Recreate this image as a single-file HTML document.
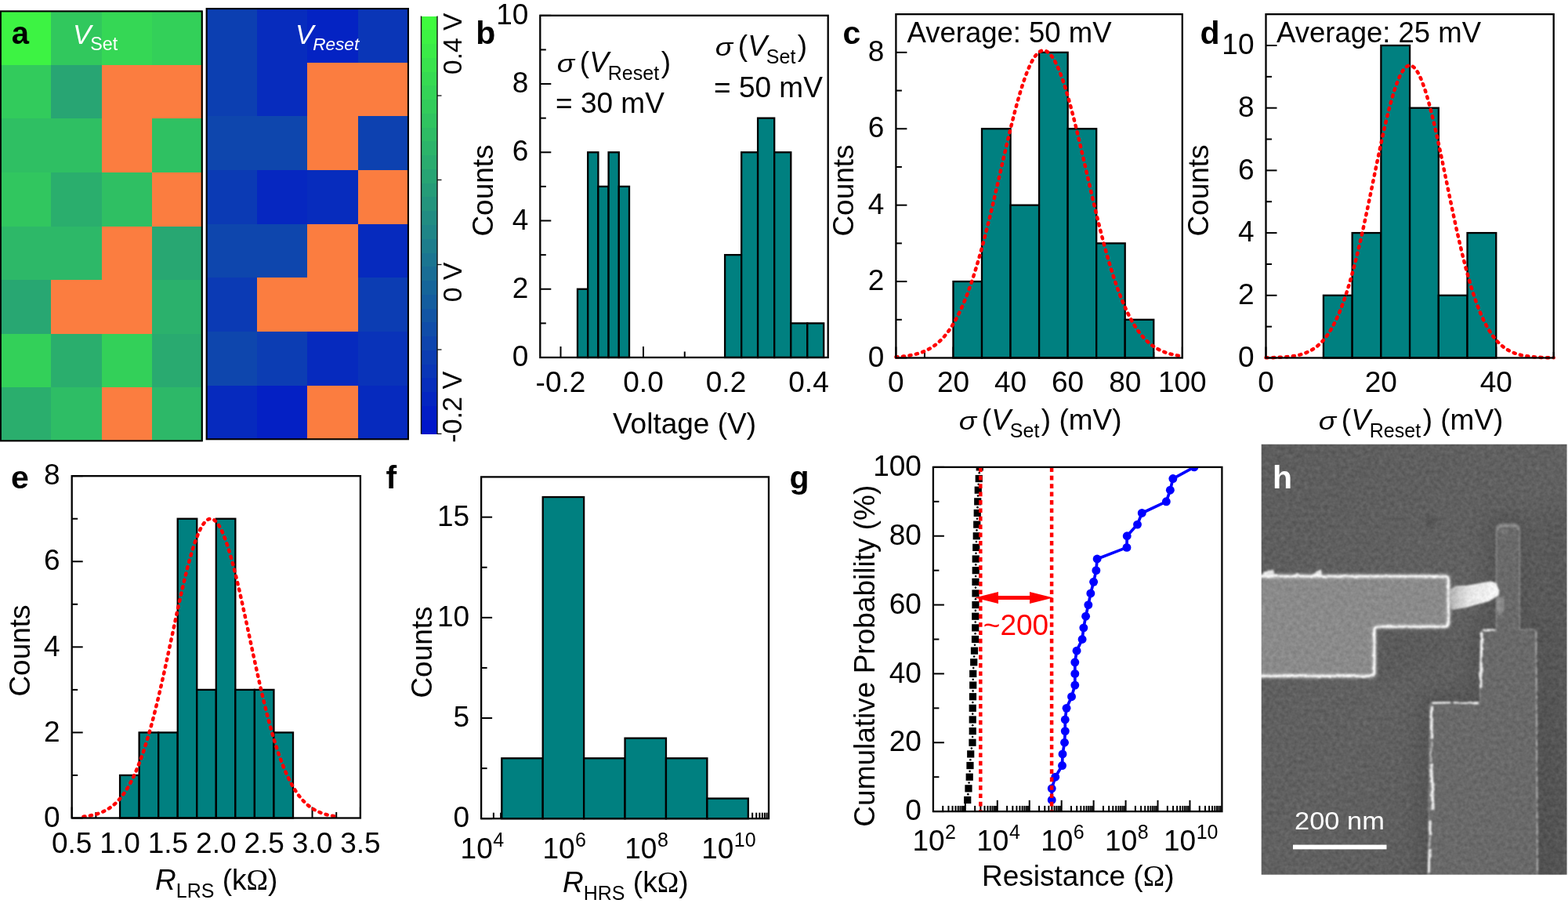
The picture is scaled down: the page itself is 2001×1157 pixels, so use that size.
<!DOCTYPE html>
<html lang="en"><head><meta charset="utf-8"><title>Figure</title>
<style>html,body{margin:0;padding:0;background:#fff;overflow:hidden}svg{display:block}text{font-family:"Liberation Sans", sans-serif}</style>
</head><body>
<svg width="2001" height="1157" viewBox="0 0 2001 1157">
<defs>
<clipPath id="semclip"><rect x="1609.7" y="566.8" width="389.89999999999986" height="548.9000000000001"/></clipPath>
<filter id="semf" x="-5%" y="-5%" width="110%" height="110%" color-interpolation-filters="sRGB"><feGaussianBlur in="SourceGraphic" stdDeviation="1" result="b"/><feTurbulence type="fractalNoise" baseFrequency="0.2" numOctaves="2" seed="7" result="n"/><feColorMatrix in="n" type="matrix" values="1 0 0 0 0  1 0 0 0 0  1 0 0 0 0  0 0 0 0 1" result="ng"/><feComposite in="b" in2="ng" operator="arithmetic" k1="0" k2="1" k3="0.13" k4="-0.065"/></filter>
<filter id="rough" x="-5%" y="-5%" width="110%" height="110%"><feTurbulence type="fractalNoise" baseFrequency="0.09" numOctaves="2" seed="3" result="t"/><feDisplacementMap in="SourceGraphic" in2="t" scale="3.2" xChannelSelector="R" yChannelSelector="G"/></filter>
<filter id="bl12" x="-30%" y="-30%" width="160%" height="160%"><feGaussianBlur stdDeviation="11"/></filter>
<filter id="bl5" x="-30%" y="-30%" width="160%" height="160%"><feGaussianBlur stdDeviation="5"/></filter>
<filter id="bl2" x="-30%" y="-30%" width="160%" height="160%"><feGaussianBlur stdDeviation="1.8"/></filter>
<linearGradient id="nwg" x1="0" y1="0" x2="1" y2="0"><stop offset="0" stop-color="#b0b0b0"/><stop offset="0.4" stop-color="#e6e6e6"/><stop offset="1" stop-color="#f6f6f6"/></linearGradient>
<linearGradient id="bgg" x1="0" y1="0" x2="1" y2="1"><stop offset="0" stop-color="#5d5d5d"/><stop offset="0.5" stop-color="#616161"/><stop offset="1" stop-color="#5a5a5a"/></linearGradient>
</defs>
<rect width="2001" height="1157" fill="#fff"/>
<g id="panel-a">
<g shape-rendering="crispEdges">
<rect x="0.8" y="14.3" width="64.6" height="69.15" fill="#3df343"/>
<rect x="64.8" y="14.3" width="65.7" height="69.15" fill="#31c85d"/>
<rect x="129.9" y="14.3" width="64.3" height="69.15" fill="#35d755"/>
<rect x="193.6" y="14.3" width="65" height="69.15" fill="#33d059"/>
<rect x="0.8" y="82.85" width="64.6" height="69.15" fill="#32cb5c"/>
<rect x="64.8" y="82.85" width="65.7" height="69.15" fill="#28a573"/>
<rect x="129.9" y="82.85" width="64.3" height="69.15" fill="#fb7d40"/>
<rect x="193.6" y="82.85" width="65" height="69.15" fill="#fb7d40"/>
<rect x="0.8" y="151.4" width="64.6" height="69.15" fill="#2fbf63"/>
<rect x="64.8" y="151.4" width="65.7" height="69.15" fill="#2fbf63"/>
<rect x="129.9" y="151.4" width="64.3" height="69.15" fill="#fb7d40"/>
<rect x="193.6" y="151.4" width="65" height="69.15" fill="#2fc162"/>
<rect x="0.8" y="219.95" width="64.6" height="69.15" fill="#31c65f"/>
<rect x="64.8" y="219.95" width="65.7" height="69.15" fill="#2aae6d"/>
<rect x="129.9" y="219.95" width="64.3" height="69.15" fill="#2fbf63"/>
<rect x="193.6" y="219.95" width="65" height="69.15" fill="#fb7d40"/>
<rect x="0.8" y="288.5" width="64.6" height="69.15" fill="#2db868"/>
<rect x="64.8" y="288.5" width="65.7" height="69.15" fill="#2db868"/>
<rect x="129.9" y="288.5" width="64.3" height="69.15" fill="#fb7d40"/>
<rect x="193.6" y="288.5" width="65" height="69.15" fill="#28a772"/>
<rect x="0.8" y="357.05" width="64.6" height="69.15" fill="#28a772"/>
<rect x="64.8" y="357.05" width="65.7" height="69.15" fill="#fb7d40"/>
<rect x="129.9" y="357.05" width="64.3" height="69.15" fill="#fb7d40"/>
<rect x="193.6" y="357.05" width="65" height="69.15" fill="#2bb16c"/>
<rect x="0.8" y="425.6" width="64.6" height="69.15" fill="#33d059"/>
<rect x="64.8" y="425.6" width="65.7" height="69.15" fill="#2aae6d"/>
<rect x="129.9" y="425.6" width="64.3" height="69.15" fill="#33d059"/>
<rect x="193.6" y="425.6" width="65" height="69.15" fill="#29aa70"/>
<rect x="0.8" y="494.15" width="64.6" height="69.15" fill="#2aae6d"/>
<rect x="64.8" y="494.15" width="65.7" height="69.15" fill="#2ebd65"/>
<rect x="129.9" y="494.15" width="64.3" height="69.15" fill="#fb7d40"/>
<rect x="193.6" y="494.15" width="65" height="69.15" fill="#2db868"/>
</g>
<rect x="0.85" y="14.35" width="256.9" height="548" fill="none" stroke="#000" stroke-width="2.1"/>
<g shape-rendering="crispEdges">
<rect x="263.5" y="10.9" width="64.97" height="69.29" fill="#0c3fb1"/>
<rect x="327.88" y="10.9" width="64.97" height="69.29" fill="#072cbd"/>
<rect x="392.25" y="10.9" width="64.97" height="69.29" fill="#0423c3"/>
<rect x="456.62" y="10.9" width="64.97" height="69.29" fill="#0a36b7"/>
<rect x="263.5" y="79.59" width="64.97" height="69.29" fill="#0c3fb1"/>
<rect x="327.88" y="79.59" width="64.97" height="69.29" fill="#072cbd"/>
<rect x="392.25" y="79.59" width="64.97" height="69.29" fill="#fb7d40"/>
<rect x="456.62" y="79.59" width="64.97" height="69.29" fill="#fb7d40"/>
<rect x="263.5" y="148.28" width="64.97" height="69.29" fill="#0e46ad"/>
<rect x="327.88" y="148.28" width="64.97" height="69.29" fill="#0e46ad"/>
<rect x="392.25" y="148.28" width="64.97" height="69.29" fill="#fb7d40"/>
<rect x="456.62" y="148.28" width="64.97" height="69.29" fill="#0d41b0"/>
<rect x="263.5" y="216.96" width="64.97" height="69.29" fill="#0b3ab4"/>
<rect x="327.88" y="216.96" width="64.97" height="69.29" fill="#0627c0"/>
<rect x="392.25" y="216.96" width="64.97" height="69.29" fill="#072cbd"/>
<rect x="456.62" y="216.96" width="64.97" height="69.29" fill="#fb7d40"/>
<rect x="263.5" y="285.65" width="64.97" height="69.29" fill="#0e46ad"/>
<rect x="327.88" y="285.65" width="64.97" height="69.29" fill="#0e46ad"/>
<rect x="392.25" y="285.65" width="64.97" height="69.29" fill="#fb7d40"/>
<rect x="456.62" y="285.65" width="64.97" height="69.29" fill="#062abe"/>
<rect x="263.5" y="354.34" width="64.97" height="69.29" fill="#0b3ab4"/>
<rect x="327.88" y="354.34" width="64.97" height="69.29" fill="#fb7d40"/>
<rect x="392.25" y="354.34" width="64.97" height="69.29" fill="#fb7d40"/>
<rect x="456.62" y="354.34" width="64.97" height="69.29" fill="#0c3db3"/>
<rect x="263.5" y="423.02" width="64.97" height="69.29" fill="#0e46ad"/>
<rect x="327.88" y="423.02" width="64.97" height="69.29" fill="#0c3db3"/>
<rect x="392.25" y="423.02" width="64.97" height="69.29" fill="#062abe"/>
<rect x="456.62" y="423.02" width="64.97" height="69.29" fill="#0933b9"/>
<rect x="263.5" y="491.71" width="64.97" height="69.29" fill="#062abe"/>
<rect x="327.88" y="491.71" width="64.97" height="69.29" fill="#0420c4"/>
<rect x="392.25" y="491.71" width="64.97" height="69.29" fill="#fb7d40"/>
<rect x="456.62" y="491.71" width="64.97" height="69.29" fill="#062abe"/>
</g>
<rect x="263.65" y="11.05" width="257.3" height="549.2" fill="none" stroke="#000" stroke-width="2.1"/>
<text x="14.8" y="56" font-size="40" font-weight="bold">a</text>
<text x="93" y="56" font-size="35" fill="#fff" style="letter-spacing:0"><tspan font-style="italic">V</tspan><tspan dy="8" dx="-1.2" font-size="23.3">Set</tspan></text>
<text x="377" y="56" font-size="35" fill="#fff" style="letter-spacing:0"><tspan font-style="italic">V</tspan><tspan dy="8" dx="-1.2" font-size="22.6" font-style="italic">Reset</tspan></text>
<g shape-rendering="crispEdges">
<rect x="537.5" y="20.5" width="20.5" height="18.27" fill="#3ffb3e"/>
<rect x="537.5" y="38.27" width="20.5" height="18.27" fill="#3df343"/>
<rect x="537.5" y="56.03" width="20.5" height="18.27" fill="#3beb48"/>
<rect x="537.5" y="73.8" width="20.5" height="18.27" fill="#39e34d"/>
<rect x="537.5" y="91.57" width="20.5" height="18.27" fill="#36db52"/>
<rect x="537.5" y="109.33" width="20.5" height="18.27" fill="#34d457"/>
<rect x="537.5" y="127.1" width="20.5" height="18.27" fill="#32cc5b"/>
<rect x="537.5" y="144.87" width="20.5" height="18.27" fill="#30c460"/>
<rect x="537.5" y="162.63" width="20.5" height="18.27" fill="#2ebc65"/>
<rect x="537.5" y="180.4" width="20.5" height="18.27" fill="#2cb46a"/>
<rect x="537.5" y="198.17" width="20.5" height="18.27" fill="#2aac6f"/>
<rect x="537.5" y="215.93" width="20.5" height="18.27" fill="#27a474"/>
<rect x="537.5" y="233.7" width="20.5" height="18.27" fill="#259c78"/>
<rect x="537.5" y="251.47" width="20.5" height="18.27" fill="#23947d"/>
<rect x="537.5" y="269.23" width="20.5" height="18.27" fill="#218c82"/>
<rect x="537.5" y="287" width="20.5" height="18.27" fill="#1f8587"/>
<rect x="537.5" y="304.77" width="20.5" height="18.27" fill="#1d7d8c"/>
<rect x="537.5" y="322.53" width="20.5" height="18.27" fill="#1b7591"/>
<rect x="537.5" y="340.3" width="20.5" height="18.27" fill="#196d95"/>
<rect x="537.5" y="358.07" width="20.5" height="18.27" fill="#16659a"/>
<rect x="537.5" y="375.83" width="20.5" height="18.27" fill="#145d9f"/>
<rect x="537.5" y="393.6" width="20.5" height="18.27" fill="#1255a4"/>
<rect x="537.5" y="411.37" width="20.5" height="18.27" fill="#104da9"/>
<rect x="537.5" y="429.13" width="20.5" height="18.27" fill="#0e45ae"/>
<rect x="537.5" y="446.9" width="20.5" height="18.27" fill="#0c3db2"/>
<rect x="537.5" y="464.67" width="20.5" height="18.27" fill="#0a36b7"/>
<rect x="537.5" y="482.43" width="20.5" height="18.27" fill="#072ebc"/>
<rect x="537.5" y="500.2" width="20.5" height="18.27" fill="#0526c1"/>
<rect x="537.5" y="517.97" width="20.5" height="18.27" fill="#031ec6"/>
<rect x="537.5" y="535.73" width="20.5" height="18.27" fill="#0116cb"/>
</g>
<line x1="537.5" y1="20.5" x2="537.5" y2="553.8" stroke="#111" stroke-width="1.4"/>
<line x1="558" y1="20.5" x2="558" y2="553.8" stroke="#111" stroke-width="1.4"/>
<line x1="558" y1="122" x2="563.5" y2="122" stroke="#111" stroke-width="1.3"/>
<line x1="558" y1="229.5" x2="563.5" y2="229.5" stroke="#111" stroke-width="1.3"/>
<line x1="558" y1="337.5" x2="563.5" y2="337.5" stroke="#111" stroke-width="1.3"/>
<line x1="558" y1="446" x2="563.5" y2="446" stroke="#111" stroke-width="1.3"/>
<line x1="558" y1="553.4" x2="563.5" y2="553.4" stroke="#111" stroke-width="1.3"/>
<text transform="translate(589 55.8) rotate(-90)" font-size="33.6" text-anchor="middle">0.4 V</text>
<text transform="translate(589 360) rotate(-90)" font-size="33.8" text-anchor="middle">0 V</text>
<text transform="translate(589 519.2) rotate(-90)" font-size="34.2" text-anchor="middle">-0.2 V</text>
</g>
<g id="panel-b">
<line x1="715.5" y1="456" x2="715.5" y2="442" stroke="#000" stroke-width="2"/>
<line x1="821" y1="456" x2="821" y2="442" stroke="#000" stroke-width="2"/>
<line x1="926.5" y1="456" x2="926.5" y2="442" stroke="#000" stroke-width="2"/>
<line x1="1032" y1="456" x2="1032" y2="442" stroke="#000" stroke-width="2"/>
<line x1="768.25" y1="456" x2="768.25" y2="448.5" stroke="#000" stroke-width="2"/>
<line x1="873.75" y1="456" x2="873.75" y2="448.5" stroke="#000" stroke-width="2"/>
<line x1="979.25" y1="456" x2="979.25" y2="448.5" stroke="#000" stroke-width="2"/>
<line x1="689.3" y1="456" x2="703.3" y2="456" stroke="#000" stroke-width="2"/>
<text x="674.3" y="467.2" font-size="37" text-anchor="end">0</text>
<line x1="689.3" y1="368.76" x2="703.3" y2="368.76" stroke="#000" stroke-width="2"/>
<text x="674.3" y="379.96" font-size="37" text-anchor="end">2</text>
<line x1="689.3" y1="281.52" x2="703.3" y2="281.52" stroke="#000" stroke-width="2"/>
<text x="674.3" y="292.72" font-size="37" text-anchor="end">4</text>
<line x1="689.3" y1="194.28" x2="703.3" y2="194.28" stroke="#000" stroke-width="2"/>
<text x="674.3" y="205.48" font-size="37" text-anchor="end">6</text>
<line x1="689.3" y1="107.04" x2="703.3" y2="107.04" stroke="#000" stroke-width="2"/>
<text x="674.3" y="118.24" font-size="37" text-anchor="end">8</text>
<line x1="689.3" y1="19.8" x2="703.3" y2="19.8" stroke="#000" stroke-width="2"/>
<text x="674.3" y="31" font-size="37" text-anchor="end">10</text>
<line x1="689.3" y1="412.38" x2="696.8" y2="412.38" stroke="#000" stroke-width="2"/>
<line x1="689.3" y1="325.14" x2="696.8" y2="325.14" stroke="#000" stroke-width="2"/>
<line x1="689.3" y1="237.9" x2="696.8" y2="237.9" stroke="#000" stroke-width="2"/>
<line x1="689.3" y1="150.66" x2="696.8" y2="150.66" stroke="#000" stroke-width="2"/>
<line x1="689.3" y1="63.42" x2="696.8" y2="63.42" stroke="#000" stroke-width="2"/>
<rect x="737" y="368.76" width="13.2" height="87.24" fill="#008080" stroke="#000" stroke-width="2.3"/>
<rect x="750.2" y="194.28" width="13.2" height="261.72" fill="#008080" stroke="#000" stroke-width="2.3"/>
<rect x="763.4" y="237.9" width="13.2" height="218.1" fill="#008080" stroke="#000" stroke-width="2.3"/>
<rect x="776.6" y="194.28" width="13.2" height="261.72" fill="#008080" stroke="#000" stroke-width="2.3"/>
<rect x="789.8" y="237.9" width="13.2" height="218.1" fill="#008080" stroke="#000" stroke-width="2.3"/>
<rect x="925.1" y="325.14" width="21.1" height="130.86" fill="#008080" stroke="#000" stroke-width="2.3"/>
<rect x="946.2" y="194.28" width="20.9" height="261.72" fill="#008080" stroke="#000" stroke-width="2.3"/>
<rect x="967.1" y="150.66" width="21.1" height="305.34" fill="#008080" stroke="#000" stroke-width="2.3"/>
<rect x="988.2" y="194.28" width="21.1" height="261.72" fill="#008080" stroke="#000" stroke-width="2.3"/>
<rect x="1009.3" y="412.38" width="21" height="43.62" fill="#008080" stroke="#000" stroke-width="2.3"/>
<rect x="1030.3" y="412.38" width="20.9" height="43.62" fill="#008080" stroke="#000" stroke-width="2.3"/>
<rect x="689.3" y="19.8" width="367.4" height="436.2" fill="none" stroke="#000" stroke-width="2.3"/>
<text x="607.2" y="56.3" font-size="41" font-weight="bold">b</text>
<text transform="translate(629 243) rotate(-90)" font-size="37" text-anchor="middle">Counts</text>
<text x="715.5" y="500.4" font-size="37" text-anchor="middle">-0.2</text>
<text x="821" y="500.4" font-size="37" text-anchor="middle">0.0</text>
<text x="926.5" y="500.4" font-size="37" text-anchor="middle">0.2</text>
<text x="1032" y="500.4" font-size="37" text-anchor="middle">0.4</text>
<text x="873.5" y="553" font-size="37" text-anchor="middle">Voltage (V)</text>
<text transform='translate(710.8 91.5) scale(1.22 1)' font-family='"Liberation Serif", serif' font-style='italic' font-size='30.5'>σ</text>
<text x='739.8' y='91.5' font-size='37'>(<tspan font-style='italic'>V</tspan><tspan dy='10' dx='-1' font-size='25'>Reset</tspan><tspan dy='-10' dx='2.5'>)</tspan></text>
<text x="709" y="144" font-size="37">= 30 mV</text>
<text transform='translate(912.8 71) scale(1.22 1)' font-family='"Liberation Serif", serif' font-style='italic' font-size='30.5'>σ</text>
<text x='941.8' y='71' font-size='37'>(<tspan font-style='italic'>V</tspan><tspan dy='10' dx='-1' font-size='25'>Set</tspan><tspan dy='-10' dx='2.5'>)</tspan></text>
<text x="911" y="123.5" font-size="37">= 50 mV</text>
</g>
<g id="panel-c">
<line x1="1143.4" y1="456.5" x2="1143.4" y2="442.5" stroke="#000" stroke-width="2"/>
<line x1="1216.48" y1="456.5" x2="1216.48" y2="442.5" stroke="#000" stroke-width="2"/>
<line x1="1289.56" y1="456.5" x2="1289.56" y2="442.5" stroke="#000" stroke-width="2"/>
<line x1="1362.64" y1="456.5" x2="1362.64" y2="442.5" stroke="#000" stroke-width="2"/>
<line x1="1435.72" y1="456.5" x2="1435.72" y2="442.5" stroke="#000" stroke-width="2"/>
<line x1="1508.8" y1="456.5" x2="1508.8" y2="442.5" stroke="#000" stroke-width="2"/>
<line x1="1179.94" y1="456.5" x2="1179.94" y2="449" stroke="#000" stroke-width="2"/>
<line x1="1253.02" y1="456.5" x2="1253.02" y2="449" stroke="#000" stroke-width="2"/>
<line x1="1326.1" y1="456.5" x2="1326.1" y2="449" stroke="#000" stroke-width="2"/>
<line x1="1399.18" y1="456.5" x2="1399.18" y2="449" stroke="#000" stroke-width="2"/>
<line x1="1472.26" y1="456.5" x2="1472.26" y2="449" stroke="#000" stroke-width="2"/>
<line x1="1143.4" y1="456.5" x2="1157.4" y2="456.5" stroke="#000" stroke-width="2"/>
<text x="1128.4" y="467.7" font-size="37" text-anchor="end">0</text>
<line x1="1143.4" y1="359.09" x2="1157.4" y2="359.09" stroke="#000" stroke-width="2"/>
<text x="1128.4" y="370.29" font-size="37" text-anchor="end">2</text>
<line x1="1143.4" y1="261.68" x2="1157.4" y2="261.68" stroke="#000" stroke-width="2"/>
<text x="1128.4" y="272.88" font-size="37" text-anchor="end">4</text>
<line x1="1143.4" y1="164.27" x2="1157.4" y2="164.27" stroke="#000" stroke-width="2"/>
<text x="1128.4" y="175.47" font-size="37" text-anchor="end">6</text>
<line x1="1143.4" y1="66.86" x2="1157.4" y2="66.86" stroke="#000" stroke-width="2"/>
<text x="1128.4" y="78.06" font-size="37" text-anchor="end">8</text>
<line x1="1143.4" y1="407.79" x2="1150.9" y2="407.79" stroke="#000" stroke-width="2"/>
<line x1="1143.4" y1="310.38" x2="1150.9" y2="310.38" stroke="#000" stroke-width="2"/>
<line x1="1143.4" y1="212.97" x2="1150.9" y2="212.97" stroke="#000" stroke-width="2"/>
<line x1="1143.4" y1="115.56" x2="1150.9" y2="115.56" stroke="#000" stroke-width="2"/>
<rect x="1216.48" y="359.09" width="36.54" height="97.41" fill="#008080" stroke="#000" stroke-width="2.3"/>
<rect x="1253.02" y="164.27" width="36.54" height="292.23" fill="#008080" stroke="#000" stroke-width="2.3"/>
<rect x="1289.56" y="261.68" width="36.54" height="194.82" fill="#008080" stroke="#000" stroke-width="2.3"/>
<rect x="1326.1" y="66.86" width="36.54" height="389.64" fill="#008080" stroke="#000" stroke-width="2.3"/>
<rect x="1362.64" y="164.27" width="36.54" height="292.23" fill="#008080" stroke="#000" stroke-width="2.3"/>
<rect x="1399.18" y="310.38" width="36.54" height="146.12" fill="#008080" stroke="#000" stroke-width="2.3"/>
<rect x="1435.72" y="407.79" width="36.54" height="48.71" fill="#008080" stroke="#000" stroke-width="2.3"/>
<path d="M1143.4 455.42 L1145.23 455.29 L1147.05 455.14 L1148.88 454.98 L1150.71 454.81 L1152.54 454.61 L1154.36 454.4 L1156.19 454.16 L1158.02 453.89 L1159.84 453.61 L1161.67 453.29 L1163.5 452.94 L1165.32 452.56 L1167.15 452.14 L1168.98 451.69 L1170.81 451.19 L1172.63 450.65 L1174.46 450.06 L1176.29 449.42 L1178.11 448.72 L1179.94 447.96 L1181.77 447.15 L1183.59 446.26 L1185.42 445.3 L1187.25 444.27 L1189.08 443.15 L1190.9 441.95 L1192.73 440.66 L1194.56 439.27 L1196.38 437.79 L1198.21 436.19 L1200.04 434.49 L1201.86 432.67 L1203.69 430.73 L1205.52 428.66 L1207.35 426.46 L1209.17 424.12 L1211 421.64 L1212.83 419 L1214.65 416.22 L1216.48 413.27 L1218.31 410.16 L1220.13 406.89 L1221.96 403.44 L1223.79 399.81 L1225.62 396 L1227.44 392.01 L1229.27 387.83 L1231.1 383.47 L1232.92 378.91 L1234.75 374.16 L1236.58 369.21 L1238.4 364.07 L1240.23 358.73 L1242.06 353.21 L1243.88 347.49 L1245.71 341.58 L1247.54 335.49 L1249.37 329.21 L1251.19 322.76 L1253.02 316.14 L1254.85 309.35 L1256.67 302.4 L1258.5 295.31 L1260.33 288.08 L1262.15 280.72 L1263.98 273.24 L1265.81 265.65 L1267.64 257.98 L1269.46 250.22 L1271.29 242.4 L1273.12 234.52 L1274.94 226.62 L1276.77 218.69 L1278.6 210.77 L1280.42 202.86 L1282.25 194.99 L1284.08 187.18 L1285.91 179.44 L1287.73 171.79 L1289.56 164.26 L1291.39 156.86 L1293.21 149.62 L1295.04 142.55 L1296.87 135.67 L1298.7 129.01 L1300.52 122.58 L1302.35 116.4 L1304.18 110.49 L1306 104.87 L1307.83 99.56 L1309.66 94.56 L1311.48 89.91 L1313.31 85.61 L1315.14 81.67 L1316.97 78.12 L1318.79 74.95 L1320.62 72.18 L1322.45 69.83 L1324.27 67.89 L1326.1 66.38 L1327.93 65.29 L1329.75 64.64 L1331.58 64.42 L1333.41 64.64 L1335.24 65.29 L1337.06 66.38 L1338.89 67.89 L1340.72 69.83 L1342.54 72.18 L1344.37 74.95 L1346.2 78.12 L1348.02 81.67 L1349.85 85.61 L1351.68 89.91 L1353.51 94.56 L1355.33 99.56 L1357.16 104.87 L1358.99 110.49 L1360.81 116.4 L1362.64 122.58 L1364.47 129.01 L1366.29 135.67 L1368.12 142.55 L1369.95 149.62 L1371.78 156.86 L1373.6 164.26 L1375.43 171.79 L1377.26 179.44 L1379.08 187.18 L1380.91 194.99 L1382.74 202.86 L1384.56 210.77 L1386.39 218.69 L1388.22 226.62 L1390.05 234.52 L1391.87 242.4 L1393.7 250.22 L1395.53 257.98 L1397.35 265.65 L1399.18 273.24 L1401.01 280.72 L1402.83 288.08 L1404.66 295.31 L1406.49 302.4 L1408.32 309.35 L1410.14 316.14 L1411.97 322.76 L1413.8 329.21 L1415.62 335.49 L1417.45 341.58 L1419.28 347.49 L1421.1 353.21 L1422.93 358.73 L1424.76 364.07 L1426.59 369.21 L1428.41 374.16 L1430.24 378.91 L1432.07 383.47 L1433.89 387.83 L1435.72 392.01 L1437.55 396 L1439.37 399.81 L1441.2 403.44 L1443.03 406.89 L1444.86 410.16 L1446.68 413.27 L1448.51 416.22 L1450.34 419 L1452.16 421.64 L1453.99 424.12 L1455.82 426.46 L1457.64 428.66 L1459.47 430.73 L1461.3 432.67 L1463.12 434.49 L1464.95 436.19 L1466.78 437.79 L1468.61 439.27 L1470.43 440.66 L1472.26 441.95 L1474.09 443.15 L1475.91 444.27 L1477.74 445.3 L1479.57 446.26 L1481.39 447.15 L1483.22 447.96 L1485.05 448.72 L1486.88 449.42 L1488.7 450.06 L1490.53 450.65 L1492.36 451.19 L1494.18 451.69 L1496.01 452.14 L1497.84 452.56 L1499.66 452.94 L1501.49 453.29 L1503.32 453.61 L1505.15 453.89 L1506.97 454.16 L1508.8 454.4" fill="none" stroke="#ff0000" stroke-width="4.5" stroke-dasharray="2.1 6.5" stroke-linecap="round"/>
<rect x="1143.4" y="18.15" width="365.4" height="438.35" fill="none" stroke="#000" stroke-width="2.3"/>
<text x="1075.4" y="56.2" font-size="41" font-weight="bold">c</text>
<text transform="translate(1089 243) rotate(-90)" font-size="37" text-anchor="middle">Counts</text>
<text x="1143.4" y="500.4" font-size="37" text-anchor="middle">0</text>
<text x="1216.48" y="500.4" font-size="37" text-anchor="middle">20</text>
<text x="1289.56" y="500.4" font-size="37" text-anchor="middle">40</text>
<text x="1362.64" y="500.4" font-size="37" text-anchor="middle">60</text>
<text x="1435.72" y="500.4" font-size="37" text-anchor="middle">80</text>
<text x="1508.8" y="500.4" font-size="37" text-anchor="middle">100</text>
<text x="1157.5" y="54.3" font-size="36.5">Average: 50 mV</text>
<text transform='translate(1223.8 548) scale(1.22 1)' font-family='"Liberation Serif", serif' font-style='italic' font-size='30.5'>σ</text>
<text x='1252.8' y='548' font-size='37'>(<tspan font-style='italic'>V</tspan><tspan dy='10' dx='-1' font-size='25'>Set</tspan><tspan dy='-10' dx='2.5'>)</tspan> (mV)</text>
</g>
<g id="panel-d">
<line x1="1615.5" y1="456.5" x2="1615.5" y2="442.5" stroke="#000" stroke-width="2"/>
<line x1="1762.38" y1="456.5" x2="1762.38" y2="442.5" stroke="#000" stroke-width="2"/>
<line x1="1909.26" y1="456.5" x2="1909.26" y2="442.5" stroke="#000" stroke-width="2"/>
<line x1="1688.94" y1="456.5" x2="1688.94" y2="449" stroke="#000" stroke-width="2"/>
<line x1="1835.82" y1="456.5" x2="1835.82" y2="449" stroke="#000" stroke-width="2"/>
<line x1="1982.7" y1="456.5" x2="1982.7" y2="449" stroke="#000" stroke-width="2"/>
<line x1="1615.5" y1="456.5" x2="1629.5" y2="456.5" stroke="#000" stroke-width="2"/>
<text x="1600.5" y="467.7" font-size="37" text-anchor="end">0</text>
<line x1="1615.5" y1="376.8" x2="1629.5" y2="376.8" stroke="#000" stroke-width="2"/>
<text x="1600.5" y="388" font-size="37" text-anchor="end">2</text>
<line x1="1615.5" y1="297.1" x2="1629.5" y2="297.1" stroke="#000" stroke-width="2"/>
<text x="1600.5" y="308.3" font-size="37" text-anchor="end">4</text>
<line x1="1615.5" y1="217.4" x2="1629.5" y2="217.4" stroke="#000" stroke-width="2"/>
<text x="1600.5" y="228.6" font-size="37" text-anchor="end">6</text>
<line x1="1615.5" y1="137.7" x2="1629.5" y2="137.7" stroke="#000" stroke-width="2"/>
<text x="1600.5" y="148.9" font-size="37" text-anchor="end">8</text>
<line x1="1615.5" y1="58" x2="1629.5" y2="58" stroke="#000" stroke-width="2"/>
<text x="1600.5" y="69.2" font-size="37" text-anchor="end">10</text>
<line x1="1615.5" y1="416.65" x2="1623" y2="416.65" stroke="#000" stroke-width="2"/>
<line x1="1615.5" y1="336.95" x2="1623" y2="336.95" stroke="#000" stroke-width="2"/>
<line x1="1615.5" y1="257.25" x2="1623" y2="257.25" stroke="#000" stroke-width="2"/>
<line x1="1615.5" y1="177.55" x2="1623" y2="177.55" stroke="#000" stroke-width="2"/>
<line x1="1615.5" y1="97.85" x2="1623" y2="97.85" stroke="#000" stroke-width="2"/>
<rect x="1688.94" y="376.8" width="36.72" height="79.7" fill="#008080" stroke="#000" stroke-width="2.3"/>
<rect x="1725.66" y="297.1" width="36.72" height="159.4" fill="#008080" stroke="#000" stroke-width="2.3"/>
<rect x="1762.38" y="58" width="36.72" height="398.5" fill="#008080" stroke="#000" stroke-width="2.3"/>
<rect x="1799.1" y="137.7" width="36.72" height="318.8" fill="#008080" stroke="#000" stroke-width="2.3"/>
<rect x="1835.82" y="376.8" width="36.72" height="79.7" fill="#008080" stroke="#000" stroke-width="2.3"/>
<rect x="1872.54" y="297.1" width="36.72" height="159.4" fill="#008080" stroke="#000" stroke-width="2.3"/>
<path d="M1615.5 456.34 L1617.34 456.32 L1619.17 456.29 L1621.01 456.25 L1622.84 456.21 L1624.68 456.17 L1626.52 456.11 L1628.35 456.05 L1630.19 455.98 L1632.02 455.9 L1633.86 455.81 L1635.7 455.71 L1637.53 455.59 L1639.37 455.46 L1641.2 455.31 L1643.04 455.14 L1644.88 454.95 L1646.71 454.74 L1648.55 454.5 L1650.38 454.23 L1652.22 453.92 L1654.06 453.59 L1655.89 453.21 L1657.73 452.79 L1659.56 452.32 L1661.4 451.8 L1663.24 451.22 L1665.07 450.58 L1666.91 449.87 L1668.74 449.09 L1670.58 448.23 L1672.42 447.29 L1674.25 446.26 L1676.09 445.12 L1677.92 443.88 L1679.76 442.53 L1681.6 441.06 L1683.43 439.45 L1685.27 437.72 L1687.1 435.83 L1688.94 433.79 L1690.78 431.59 L1692.61 429.22 L1694.45 426.67 L1696.28 423.93 L1698.12 420.99 L1699.96 417.85 L1701.79 414.5 L1703.63 410.93 L1705.46 407.13 L1707.3 403.09 L1709.14 398.82 L1710.97 394.3 L1712.81 389.53 L1714.64 384.51 L1716.48 379.24 L1718.32 373.7 L1720.15 367.91 L1721.99 361.85 L1723.82 355.54 L1725.66 348.98 L1727.5 342.17 L1729.33 335.12 L1731.17 327.83 L1733 320.32 L1734.84 312.59 L1736.68 304.66 L1738.51 296.54 L1740.35 288.25 L1742.18 279.8 L1744.02 271.22 L1745.86 262.52 L1747.69 253.73 L1749.53 244.88 L1751.36 235.97 L1753.2 227.06 L1755.04 218.15 L1756.87 209.28 L1758.71 200.47 L1760.54 191.77 L1762.38 183.2 L1764.22 174.78 L1766.05 166.56 L1767.89 158.56 L1769.72 150.82 L1771.56 143.36 L1773.4 136.22 L1775.23 129.43 L1777.07 123.01 L1778.9 116.99 L1780.74 111.4 L1782.58 106.27 L1784.41 101.61 L1786.25 97.45 L1788.08 93.8 L1789.92 90.68 L1791.76 88.12 L1793.59 86.1 L1795.43 84.66 L1797.26 83.79 L1799.1 83.5 L1800.94 83.79 L1802.77 84.66 L1804.61 86.1 L1806.44 88.12 L1808.28 90.68 L1810.12 93.8 L1811.95 97.45 L1813.79 101.61 L1815.62 106.27 L1817.46 111.4 L1819.3 116.99 L1821.13 123.01 L1822.97 129.43 L1824.8 136.22 L1826.64 143.36 L1828.48 150.82 L1830.31 158.56 L1832.15 166.56 L1833.98 174.78 L1835.82 183.2 L1837.66 191.77 L1839.49 200.47 L1841.33 209.28 L1843.16 218.15 L1845 227.06 L1846.84 235.97 L1848.67 244.88 L1850.51 253.73 L1852.34 262.52 L1854.18 271.22 L1856.02 279.8 L1857.85 288.25 L1859.69 296.54 L1861.52 304.66 L1863.36 312.59 L1865.2 320.32 L1867.03 327.83 L1868.87 335.12 L1870.7 342.17 L1872.54 348.98 L1874.38 355.54 L1876.21 361.85 L1878.05 367.91 L1879.88 373.7 L1881.72 379.24 L1883.56 384.51 L1885.39 389.53 L1887.23 394.3 L1889.06 398.82 L1890.9 403.09 L1892.74 407.13 L1894.57 410.93 L1896.41 414.5 L1898.24 417.85 L1900.08 420.99 L1901.92 423.93 L1903.75 426.67 L1905.59 429.22 L1907.42 431.59 L1909.26 433.79 L1911.1 435.83 L1912.93 437.72 L1914.77 439.45 L1916.6 441.06 L1918.44 442.53 L1920.28 443.88 L1922.11 445.12 L1923.95 446.26 L1925.78 447.29 L1927.62 448.23 L1929.46 449.09 L1931.29 449.87 L1933.13 450.58 L1934.96 451.22 L1936.8 451.8 L1938.64 452.32 L1940.47 452.79 L1942.31 453.21 L1944.14 453.59 L1945.98 453.92 L1947.82 454.23 L1949.65 454.5 L1951.49 454.74 L1953.32 454.95 L1955.16 455.14 L1957 455.31 L1958.83 455.46 L1960.67 455.59 L1962.5 455.71 L1964.34 455.81 L1966.18 455.9 L1968.01 455.98 L1969.85 456.05 L1971.68 456.11 L1973.52 456.17 L1975.36 456.21 L1977.19 456.25 L1979.03 456.29 L1980.86 456.32 L1982.7 456.34" fill="none" stroke="#ff0000" stroke-width="4.5" stroke-dasharray="2.1 6.5" stroke-linecap="round"/>
<rect x="1615.5" y="18.15" width="367.2" height="438.35" fill="none" stroke="#000" stroke-width="2.3"/>
<text x="1531.5" y="56.3" font-size="41" font-weight="bold">d</text>
<text transform="translate(1541.5 243) rotate(-90)" font-size="37" text-anchor="middle">Counts</text>
<text x="1615.5" y="500.4" font-size="37" text-anchor="middle">0</text>
<text x="1762.38" y="500.4" font-size="37" text-anchor="middle">20</text>
<text x="1909.26" y="500.4" font-size="37" text-anchor="middle">40</text>
<text x="1629" y="54.3" font-size="36.5">Average: 25 mV</text>
<text transform='translate(1682.8 548) scale(1.22 1)' font-family='"Liberation Serif", serif' font-style='italic' font-size='30.5'>σ</text>
<text x='1711.8' y='548' font-size='37'>(<tspan font-style='italic'>V</tspan><tspan dy='10' dx='-1' font-size='25'>Reset</tspan><tspan dy='-10' dx='2.5'>)</tspan> (mV)</text>
</g>
<g id="panel-e">
<line x1="91.7" y1="1043.5" x2="91.7" y2="1029.5" stroke="#000" stroke-width="2"/>
<line x1="153.07" y1="1043.5" x2="153.07" y2="1029.5" stroke="#000" stroke-width="2"/>
<line x1="214.43" y1="1043.5" x2="214.43" y2="1029.5" stroke="#000" stroke-width="2"/>
<line x1="275.8" y1="1043.5" x2="275.8" y2="1029.5" stroke="#000" stroke-width="2"/>
<line x1="337.17" y1="1043.5" x2="337.17" y2="1029.5" stroke="#000" stroke-width="2"/>
<line x1="398.53" y1="1043.5" x2="398.53" y2="1029.5" stroke="#000" stroke-width="2"/>
<line x1="459.9" y1="1043.5" x2="459.9" y2="1029.5" stroke="#000" stroke-width="2"/>
<line x1="122.38" y1="1043.5" x2="122.38" y2="1036" stroke="#000" stroke-width="2"/>
<line x1="183.75" y1="1043.5" x2="183.75" y2="1036" stroke="#000" stroke-width="2"/>
<line x1="245.12" y1="1043.5" x2="245.12" y2="1036" stroke="#000" stroke-width="2"/>
<line x1="306.48" y1="1043.5" x2="306.48" y2="1036" stroke="#000" stroke-width="2"/>
<line x1="367.85" y1="1043.5" x2="367.85" y2="1036" stroke="#000" stroke-width="2"/>
<line x1="429.22" y1="1043.5" x2="429.22" y2="1036" stroke="#000" stroke-width="2"/>
<line x1="91.7" y1="1043.5" x2="105.7" y2="1043.5" stroke="#000" stroke-width="2"/>
<text x="76.7" y="1054.7" font-size="37" text-anchor="end">0</text>
<line x1="91.7" y1="934.42" x2="105.7" y2="934.42" stroke="#000" stroke-width="2"/>
<text x="76.7" y="945.62" font-size="37" text-anchor="end">2</text>
<line x1="91.7" y1="825.35" x2="105.7" y2="825.35" stroke="#000" stroke-width="2"/>
<text x="76.7" y="836.55" font-size="37" text-anchor="end">4</text>
<line x1="91.7" y1="716.28" x2="105.7" y2="716.28" stroke="#000" stroke-width="2"/>
<text x="76.7" y="727.48" font-size="37" text-anchor="end">6</text>
<line x1="91.7" y1="607.2" x2="105.7" y2="607.2" stroke="#000" stroke-width="2"/>
<text x="76.7" y="618.4" font-size="37" text-anchor="end">8</text>
<line x1="91.7" y1="988.96" x2="99.2" y2="988.96" stroke="#000" stroke-width="2"/>
<line x1="91.7" y1="879.89" x2="99.2" y2="879.89" stroke="#000" stroke-width="2"/>
<line x1="91.7" y1="770.81" x2="99.2" y2="770.81" stroke="#000" stroke-width="2"/>
<line x1="91.7" y1="661.74" x2="99.2" y2="661.74" stroke="#000" stroke-width="2"/>
<rect x="153.07" y="988.96" width="24.55" height="54.54" fill="#008080" stroke="#000" stroke-width="2.3"/>
<rect x="177.61" y="934.42" width="24.55" height="109.08" fill="#008080" stroke="#000" stroke-width="2.3"/>
<rect x="202.16" y="934.42" width="24.55" height="109.08" fill="#008080" stroke="#000" stroke-width="2.3"/>
<rect x="226.71" y="661.74" width="24.55" height="381.76" fill="#008080" stroke="#000" stroke-width="2.3"/>
<rect x="251.25" y="879.89" width="24.55" height="163.61" fill="#008080" stroke="#000" stroke-width="2.3"/>
<rect x="275.8" y="661.74" width="24.55" height="381.76" fill="#008080" stroke="#000" stroke-width="2.3"/>
<rect x="300.35" y="879.89" width="24.55" height="163.61" fill="#008080" stroke="#000" stroke-width="2.3"/>
<rect x="324.89" y="879.89" width="24.55" height="163.61" fill="#008080" stroke="#000" stroke-width="2.3"/>
<rect x="349.44" y="934.42" width="24.55" height="109.08" fill="#008080" stroke="#000" stroke-width="2.3"/>
<path d="M106.43 1041.76 L108.03 1041.56 L109.63 1041.35 L111.23 1041.11 L112.83 1040.85 L114.44 1040.57 L116.04 1040.26 L117.64 1039.92 L119.24 1039.55 L120.84 1039.15 L122.44 1038.71 L124.05 1038.23 L125.65 1037.71 L127.25 1037.14 L128.85 1036.53 L130.45 1035.86 L132.05 1035.15 L133.66 1034.37 L135.26 1033.53 L136.86 1032.62 L138.46 1031.65 L140.06 1030.6 L141.66 1029.47 L143.27 1028.26 L144.87 1026.96 L146.47 1025.58 L148.07 1024.09 L149.67 1022.51 L151.27 1020.82 L152.88 1019.01 L154.48 1017.1 L156.08 1015.06 L157.68 1012.9 L159.28 1010.61 L160.88 1008.18 L162.49 1005.61 L164.09 1002.9 L165.69 1000.04 L167.29 997.03 L168.89 993.87 L170.49 990.54 L172.1 987.05 L173.7 983.39 L175.3 979.56 L176.9 975.56 L178.5 971.39 L180.1 967.03 L181.71 962.51 L183.31 957.8 L184.91 952.91 L186.51 947.85 L188.11 942.6 L189.71 937.19 L191.32 931.6 L192.92 925.83 L194.52 919.91 L196.12 913.81 L197.72 907.57 L199.32 901.16 L200.93 894.62 L202.53 887.93 L204.13 881.12 L205.73 874.19 L207.33 867.14 L208.93 860 L210.54 852.76 L212.14 845.45 L213.74 838.07 L215.34 830.64 L216.94 823.17 L218.54 815.68 L220.15 808.19 L221.75 800.7 L223.35 793.23 L224.95 785.81 L226.55 778.44 L228.15 771.15 L229.76 763.95 L231.36 756.86 L232.96 749.9 L234.56 743.09 L236.16 736.44 L237.76 729.97 L239.37 723.7 L240.97 717.65 L242.57 711.83 L244.17 706.26 L245.77 700.96 L247.37 695.94 L248.98 691.21 L250.58 686.8 L252.18 682.7 L253.78 678.95 L255.38 675.54 L256.98 672.48 L258.59 669.8 L260.19 667.49 L261.79 665.56 L263.39 664.02 L264.99 662.87 L266.59 662.12 L268.2 661.77 L269.8 661.81 L271.4 662.26 L273 663.11 L274.6 664.35 L276.21 665.99 L277.81 668.01 L279.41 670.41 L281.01 673.19 L282.61 676.33 L284.21 679.82 L285.82 683.66 L287.42 687.83 L289.02 692.32 L290.62 697.12 L292.22 702.21 L293.82 707.58 L295.43 713.21 L297.03 719.09 L298.63 725.2 L300.23 731.51 L301.83 738.03 L303.43 744.72 L305.04 751.57 L306.64 758.56 L308.24 765.68 L309.84 772.9 L311.44 780.21 L313.04 787.59 L314.65 795.03 L316.25 802.5 L317.85 810 L319.45 817.49 L321.05 824.98 L322.65 832.44 L324.26 839.86 L325.86 847.22 L327.46 854.51 L329.06 861.73 L330.66 868.85 L332.26 875.87 L333.87 882.78 L335.47 889.56 L337.07 896.21 L338.67 902.72 L340.27 909.09 L341.87 915.3 L343.48 921.35 L345.08 927.24 L346.68 932.96 L348.28 938.51 L349.88 943.89 L351.48 949.09 L353.09 954.11 L354.69 958.95 L356.29 963.62 L357.89 968.1 L359.49 972.41 L361.09 976.54 L362.7 980.5 L364.3 984.29 L365.9 987.91 L367.5 991.36 L369.1 994.65 L370.7 997.78 L372.31 1000.75 L373.91 1003.57 L375.51 1006.25 L377.11 1008.78 L378.71 1011.17 L380.31 1013.43 L381.92 1015.56 L383.52 1017.57 L385.12 1019.46 L386.72 1021.23 L388.32 1022.9 L389.92 1024.46 L391.53 1025.92 L393.13 1027.29 L394.73 1028.56 L396.33 1029.75 L397.93 1030.86 L399.53 1031.89 L401.14 1032.85 L402.74 1033.74 L404.34 1034.56 L405.94 1035.32 L407.54 1036.03 L409.14 1036.68 L410.75 1037.28 L412.35 1037.84 L413.95 1038.35 L415.55 1038.82 L417.15 1039.25 L418.75 1039.64 L420.36 1040.01 L421.96 1040.34 L423.56 1040.64 L425.16 1040.92 L426.76 1041.17" fill="none" stroke="#ff0000" stroke-width="4.5" stroke-dasharray="2.1 6.5" stroke-linecap="round"/>
<rect x="91.7" y="607.2" width="368.2" height="436.3" fill="none" stroke="#000" stroke-width="2.3"/>
<text x="14" y="622.8" font-size="41" font-weight="bold">e</text>
<text transform="translate(37.5 830) rotate(-90)" font-size="37" text-anchor="middle">Counts</text>
<text x="91.7" y="1087.5" font-size="37" text-anchor="middle">0.5</text>
<text x="153.07" y="1087.5" font-size="37" text-anchor="middle">1.0</text>
<text x="214.43" y="1087.5" font-size="37" text-anchor="middle">1.5</text>
<text x="275.8" y="1087.5" font-size="37" text-anchor="middle">2.0</text>
<text x="337.17" y="1087.5" font-size="37" text-anchor="middle">2.5</text>
<text x="398.53" y="1087.5" font-size="37" text-anchor="middle">3.0</text>
<text x="459.9" y="1087.5" font-size="37" text-anchor="middle">3.5</text>
<text x='198' y='1135' font-size='37'><tspan font-style='italic'>R</tspan><tspan dy='10' font-size='25'>LRS</tspan><tspan dy='-10'> (k</tspan><tspan font-family='"Liberation Serif", serif'>Ω</tspan><tspan>)</tspan></text>
</g>
<g id="panel-f">
<line x1="666.51" y1="1044.2" x2="666.51" y2="1030.2" stroke="#000" stroke-width="2"/>
<line x1="718.93" y1="1044.2" x2="718.93" y2="1030.2" stroke="#000" stroke-width="2"/>
<line x1="771.34" y1="1044.2" x2="771.34" y2="1030.2" stroke="#000" stroke-width="2"/>
<line x1="823.76" y1="1044.2" x2="823.76" y2="1030.2" stroke="#000" stroke-width="2"/>
<line x1="876.17" y1="1044.2" x2="876.17" y2="1030.2" stroke="#000" stroke-width="2"/>
<line x1="928.59" y1="1044.2" x2="928.59" y2="1030.2" stroke="#000" stroke-width="2"/>
<line x1="629.88" y1="1044.2" x2="629.88" y2="1036.7" stroke="#000" stroke-width="2"/>
<line x1="639.11" y1="1044.2" x2="639.11" y2="1036.7" stroke="#000" stroke-width="2"/>
<line x1="645.66" y1="1044.2" x2="645.66" y2="1036.7" stroke="#000" stroke-width="2"/>
<line x1="650.74" y1="1044.2" x2="650.74" y2="1036.7" stroke="#000" stroke-width="2"/>
<line x1="654.89" y1="1044.2" x2="654.89" y2="1036.7" stroke="#000" stroke-width="2"/>
<line x1="658.4" y1="1044.2" x2="658.4" y2="1036.7" stroke="#000" stroke-width="2"/>
<line x1="661.43" y1="1044.2" x2="661.43" y2="1036.7" stroke="#000" stroke-width="2"/>
<line x1="664.12" y1="1044.2" x2="664.12" y2="1036.7" stroke="#000" stroke-width="2"/>
<line x1="682.29" y1="1044.2" x2="682.29" y2="1036.7" stroke="#000" stroke-width="2"/>
<line x1="691.52" y1="1044.2" x2="691.52" y2="1036.7" stroke="#000" stroke-width="2"/>
<line x1="698.07" y1="1044.2" x2="698.07" y2="1036.7" stroke="#000" stroke-width="2"/>
<line x1="703.15" y1="1044.2" x2="703.15" y2="1036.7" stroke="#000" stroke-width="2"/>
<line x1="707.3" y1="1044.2" x2="707.3" y2="1036.7" stroke="#000" stroke-width="2"/>
<line x1="710.81" y1="1044.2" x2="710.81" y2="1036.7" stroke="#000" stroke-width="2"/>
<line x1="713.85" y1="1044.2" x2="713.85" y2="1036.7" stroke="#000" stroke-width="2"/>
<line x1="716.53" y1="1044.2" x2="716.53" y2="1036.7" stroke="#000" stroke-width="2"/>
<line x1="734.71" y1="1044.2" x2="734.71" y2="1036.7" stroke="#000" stroke-width="2"/>
<line x1="743.94" y1="1044.2" x2="743.94" y2="1036.7" stroke="#000" stroke-width="2"/>
<line x1="750.49" y1="1044.2" x2="750.49" y2="1036.7" stroke="#000" stroke-width="2"/>
<line x1="755.56" y1="1044.2" x2="755.56" y2="1036.7" stroke="#000" stroke-width="2"/>
<line x1="759.71" y1="1044.2" x2="759.71" y2="1036.7" stroke="#000" stroke-width="2"/>
<line x1="763.22" y1="1044.2" x2="763.22" y2="1036.7" stroke="#000" stroke-width="2"/>
<line x1="766.26" y1="1044.2" x2="766.26" y2="1036.7" stroke="#000" stroke-width="2"/>
<line x1="768.94" y1="1044.2" x2="768.94" y2="1036.7" stroke="#000" stroke-width="2"/>
<line x1="787.12" y1="1044.2" x2="787.12" y2="1036.7" stroke="#000" stroke-width="2"/>
<line x1="796.35" y1="1044.2" x2="796.35" y2="1036.7" stroke="#000" stroke-width="2"/>
<line x1="802.9" y1="1044.2" x2="802.9" y2="1036.7" stroke="#000" stroke-width="2"/>
<line x1="807.98" y1="1044.2" x2="807.98" y2="1036.7" stroke="#000" stroke-width="2"/>
<line x1="812.13" y1="1044.2" x2="812.13" y2="1036.7" stroke="#000" stroke-width="2"/>
<line x1="815.64" y1="1044.2" x2="815.64" y2="1036.7" stroke="#000" stroke-width="2"/>
<line x1="818.68" y1="1044.2" x2="818.68" y2="1036.7" stroke="#000" stroke-width="2"/>
<line x1="821.36" y1="1044.2" x2="821.36" y2="1036.7" stroke="#000" stroke-width="2"/>
<line x1="839.54" y1="1044.2" x2="839.54" y2="1036.7" stroke="#000" stroke-width="2"/>
<line x1="848.77" y1="1044.2" x2="848.77" y2="1036.7" stroke="#000" stroke-width="2"/>
<line x1="855.31" y1="1044.2" x2="855.31" y2="1036.7" stroke="#000" stroke-width="2"/>
<line x1="860.39" y1="1044.2" x2="860.39" y2="1036.7" stroke="#000" stroke-width="2"/>
<line x1="864.54" y1="1044.2" x2="864.54" y2="1036.7" stroke="#000" stroke-width="2"/>
<line x1="868.05" y1="1044.2" x2="868.05" y2="1036.7" stroke="#000" stroke-width="2"/>
<line x1="871.09" y1="1044.2" x2="871.09" y2="1036.7" stroke="#000" stroke-width="2"/>
<line x1="873.77" y1="1044.2" x2="873.77" y2="1036.7" stroke="#000" stroke-width="2"/>
<line x1="891.95" y1="1044.2" x2="891.95" y2="1036.7" stroke="#000" stroke-width="2"/>
<line x1="901.18" y1="1044.2" x2="901.18" y2="1036.7" stroke="#000" stroke-width="2"/>
<line x1="907.73" y1="1044.2" x2="907.73" y2="1036.7" stroke="#000" stroke-width="2"/>
<line x1="912.81" y1="1044.2" x2="912.81" y2="1036.7" stroke="#000" stroke-width="2"/>
<line x1="916.96" y1="1044.2" x2="916.96" y2="1036.7" stroke="#000" stroke-width="2"/>
<line x1="920.47" y1="1044.2" x2="920.47" y2="1036.7" stroke="#000" stroke-width="2"/>
<line x1="923.51" y1="1044.2" x2="923.51" y2="1036.7" stroke="#000" stroke-width="2"/>
<line x1="926.19" y1="1044.2" x2="926.19" y2="1036.7" stroke="#000" stroke-width="2"/>
<line x1="944.36" y1="1044.2" x2="944.36" y2="1036.7" stroke="#000" stroke-width="2"/>
<line x1="953.59" y1="1044.2" x2="953.59" y2="1036.7" stroke="#000" stroke-width="2"/>
<line x1="960.14" y1="1044.2" x2="960.14" y2="1036.7" stroke="#000" stroke-width="2"/>
<line x1="965.22" y1="1044.2" x2="965.22" y2="1036.7" stroke="#000" stroke-width="2"/>
<line x1="969.37" y1="1044.2" x2="969.37" y2="1036.7" stroke="#000" stroke-width="2"/>
<line x1="972.88" y1="1044.2" x2="972.88" y2="1036.7" stroke="#000" stroke-width="2"/>
<line x1="975.92" y1="1044.2" x2="975.92" y2="1036.7" stroke="#000" stroke-width="2"/>
<line x1="978.6" y1="1044.2" x2="978.6" y2="1036.7" stroke="#000" stroke-width="2"/>
<line x1="614.1" y1="1044.2" x2="628.1" y2="1044.2" stroke="#000" stroke-width="2"/>
<text x="599.1" y="1055.4" font-size="37" text-anchor="end">0</text>
<line x1="614.1" y1="916.02" x2="628.1" y2="916.02" stroke="#000" stroke-width="2"/>
<text x="599.1" y="927.22" font-size="37" text-anchor="end">5</text>
<line x1="614.1" y1="787.85" x2="628.1" y2="787.85" stroke="#000" stroke-width="2"/>
<text x="599.1" y="799.05" font-size="37" text-anchor="end">10</text>
<line x1="614.1" y1="659.67" x2="628.1" y2="659.67" stroke="#000" stroke-width="2"/>
<text x="599.1" y="670.87" font-size="37" text-anchor="end">15</text>
<line x1="614.1" y1="980.11" x2="621.6" y2="980.11" stroke="#000" stroke-width="2"/>
<line x1="614.1" y1="851.94" x2="621.6" y2="851.94" stroke="#000" stroke-width="2"/>
<line x1="614.1" y1="723.76" x2="621.6" y2="723.76" stroke="#000" stroke-width="2"/>
<rect x="640.31" y="967.29" width="52.41" height="76.91" fill="#008080" stroke="#000" stroke-width="2.3"/>
<rect x="692.72" y="634.04" width="52.41" height="410.16" fill="#008080" stroke="#000" stroke-width="2.3"/>
<rect x="745.14" y="967.29" width="52.41" height="76.91" fill="#008080" stroke="#000" stroke-width="2.3"/>
<rect x="797.55" y="941.66" width="52.41" height="102.54" fill="#008080" stroke="#000" stroke-width="2.3"/>
<rect x="849.96" y="967.29" width="52.41" height="76.91" fill="#008080" stroke="#000" stroke-width="2.3"/>
<rect x="902.38" y="1018.56" width="52.41" height="25.64" fill="#008080" stroke="#000" stroke-width="2.3"/>
<rect x="614.1" y="608.4" width="366.9" height="435.8" fill="none" stroke="#000" stroke-width="2.3"/>
<text x="492.5" y="622.8" font-size="41" font-weight="bold">f</text>
<text transform="translate(551 832) rotate(-90)" font-size="37" text-anchor="middle">Counts</text>
<text x="615.4" y="1094.6" font-size="37" text-anchor="middle">10<tspan dy="-15" dx="0.5" font-size="25">4</tspan></text>
<text x="720.23" y="1094.6" font-size="37" text-anchor="middle">10<tspan dy="-15" dx="0.5" font-size="25">6</tspan></text>
<text x="825.06" y="1094.6" font-size="37" text-anchor="middle">10<tspan dy="-15" dx="0.5" font-size="25">8</tspan></text>
<text x="929.89" y="1094.6" font-size="37" text-anchor="middle">10<tspan dy="-15" dx="0.5" font-size="25">10</tspan></text>
<text x='718' y='1138' font-size='37'><tspan font-style='italic'>R</tspan><tspan dy='10' font-size='25'>HRS</tspan><tspan dy='-10'> (k</tspan><tspan font-family='"Liberation Serif", serif'>Ω</tspan><tspan>)</tspan></text>
</g>
<g id="panel-g">
<line x1="1231.84" y1="1035.1" x2="1231.84" y2="1020.8" stroke="#000" stroke-width="2"/>
<line x1="1272.79" y1="1035.1" x2="1272.79" y2="1020.8" stroke="#000" stroke-width="2"/>
<line x1="1313.73" y1="1035.1" x2="1313.73" y2="1020.8" stroke="#000" stroke-width="2"/>
<line x1="1354.68" y1="1035.1" x2="1354.68" y2="1020.8" stroke="#000" stroke-width="2"/>
<line x1="1395.62" y1="1035.1" x2="1395.62" y2="1020.8" stroke="#000" stroke-width="2"/>
<line x1="1436.57" y1="1035.1" x2="1436.57" y2="1020.8" stroke="#000" stroke-width="2"/>
<line x1="1477.51" y1="1035.1" x2="1477.51" y2="1020.8" stroke="#000" stroke-width="2"/>
<line x1="1518.46" y1="1035.1" x2="1518.46" y2="1020.8" stroke="#000" stroke-width="2"/>
<line x1="1203.23" y1="1035.1" x2="1203.23" y2="1027.9" stroke="#000" stroke-width="2"/>
<line x1="1210.44" y1="1035.1" x2="1210.44" y2="1027.9" stroke="#000" stroke-width="2"/>
<line x1="1215.55" y1="1035.1" x2="1215.55" y2="1027.9" stroke="#000" stroke-width="2"/>
<line x1="1219.52" y1="1035.1" x2="1219.52" y2="1027.9" stroke="#000" stroke-width="2"/>
<line x1="1222.76" y1="1035.1" x2="1222.76" y2="1027.9" stroke="#000" stroke-width="2"/>
<line x1="1225.5" y1="1035.1" x2="1225.5" y2="1027.9" stroke="#000" stroke-width="2"/>
<line x1="1227.88" y1="1035.1" x2="1227.88" y2="1027.9" stroke="#000" stroke-width="2"/>
<line x1="1229.97" y1="1035.1" x2="1229.97" y2="1027.9" stroke="#000" stroke-width="2"/>
<line x1="1244.17" y1="1035.1" x2="1244.17" y2="1027.9" stroke="#000" stroke-width="2"/>
<line x1="1251.38" y1="1035.1" x2="1251.38" y2="1027.9" stroke="#000" stroke-width="2"/>
<line x1="1256.5" y1="1035.1" x2="1256.5" y2="1027.9" stroke="#000" stroke-width="2"/>
<line x1="1260.46" y1="1035.1" x2="1260.46" y2="1027.9" stroke="#000" stroke-width="2"/>
<line x1="1263.71" y1="1035.1" x2="1263.71" y2="1027.9" stroke="#000" stroke-width="2"/>
<line x1="1266.45" y1="1035.1" x2="1266.45" y2="1027.9" stroke="#000" stroke-width="2"/>
<line x1="1268.82" y1="1035.1" x2="1268.82" y2="1027.9" stroke="#000" stroke-width="2"/>
<line x1="1270.92" y1="1035.1" x2="1270.92" y2="1027.9" stroke="#000" stroke-width="2"/>
<line x1="1285.11" y1="1035.1" x2="1285.11" y2="1027.9" stroke="#000" stroke-width="2"/>
<line x1="1292.32" y1="1035.1" x2="1292.32" y2="1027.9" stroke="#000" stroke-width="2"/>
<line x1="1297.44" y1="1035.1" x2="1297.44" y2="1027.9" stroke="#000" stroke-width="2"/>
<line x1="1301.41" y1="1035.1" x2="1301.41" y2="1027.9" stroke="#000" stroke-width="2"/>
<line x1="1304.65" y1="1035.1" x2="1304.65" y2="1027.9" stroke="#000" stroke-width="2"/>
<line x1="1307.39" y1="1035.1" x2="1307.39" y2="1027.9" stroke="#000" stroke-width="2"/>
<line x1="1309.77" y1="1035.1" x2="1309.77" y2="1027.9" stroke="#000" stroke-width="2"/>
<line x1="1311.86" y1="1035.1" x2="1311.86" y2="1027.9" stroke="#000" stroke-width="2"/>
<line x1="1326.06" y1="1035.1" x2="1326.06" y2="1027.9" stroke="#000" stroke-width="2"/>
<line x1="1333.27" y1="1035.1" x2="1333.27" y2="1027.9" stroke="#000" stroke-width="2"/>
<line x1="1338.38" y1="1035.1" x2="1338.38" y2="1027.9" stroke="#000" stroke-width="2"/>
<line x1="1342.35" y1="1035.1" x2="1342.35" y2="1027.9" stroke="#000" stroke-width="2"/>
<line x1="1345.59" y1="1035.1" x2="1345.59" y2="1027.9" stroke="#000" stroke-width="2"/>
<line x1="1348.34" y1="1035.1" x2="1348.34" y2="1027.9" stroke="#000" stroke-width="2"/>
<line x1="1350.71" y1="1035.1" x2="1350.71" y2="1027.9" stroke="#000" stroke-width="2"/>
<line x1="1352.8" y1="1035.1" x2="1352.8" y2="1027.9" stroke="#000" stroke-width="2"/>
<line x1="1367" y1="1035.1" x2="1367" y2="1027.9" stroke="#000" stroke-width="2"/>
<line x1="1374.21" y1="1035.1" x2="1374.21" y2="1027.9" stroke="#000" stroke-width="2"/>
<line x1="1379.33" y1="1035.1" x2="1379.33" y2="1027.9" stroke="#000" stroke-width="2"/>
<line x1="1383.3" y1="1035.1" x2="1383.3" y2="1027.9" stroke="#000" stroke-width="2"/>
<line x1="1386.54" y1="1035.1" x2="1386.54" y2="1027.9" stroke="#000" stroke-width="2"/>
<line x1="1389.28" y1="1035.1" x2="1389.28" y2="1027.9" stroke="#000" stroke-width="2"/>
<line x1="1391.65" y1="1035.1" x2="1391.65" y2="1027.9" stroke="#000" stroke-width="2"/>
<line x1="1393.75" y1="1035.1" x2="1393.75" y2="1027.9" stroke="#000" stroke-width="2"/>
<line x1="1407.95" y1="1035.1" x2="1407.95" y2="1027.9" stroke="#000" stroke-width="2"/>
<line x1="1415.16" y1="1035.1" x2="1415.16" y2="1027.9" stroke="#000" stroke-width="2"/>
<line x1="1420.27" y1="1035.1" x2="1420.27" y2="1027.9" stroke="#000" stroke-width="2"/>
<line x1="1424.24" y1="1035.1" x2="1424.24" y2="1027.9" stroke="#000" stroke-width="2"/>
<line x1="1427.48" y1="1035.1" x2="1427.48" y2="1027.9" stroke="#000" stroke-width="2"/>
<line x1="1430.22" y1="1035.1" x2="1430.22" y2="1027.9" stroke="#000" stroke-width="2"/>
<line x1="1432.6" y1="1035.1" x2="1432.6" y2="1027.9" stroke="#000" stroke-width="2"/>
<line x1="1434.69" y1="1035.1" x2="1434.69" y2="1027.9" stroke="#000" stroke-width="2"/>
<line x1="1448.89" y1="1035.1" x2="1448.89" y2="1027.9" stroke="#000" stroke-width="2"/>
<line x1="1456.1" y1="1035.1" x2="1456.1" y2="1027.9" stroke="#000" stroke-width="2"/>
<line x1="1461.22" y1="1035.1" x2="1461.22" y2="1027.9" stroke="#000" stroke-width="2"/>
<line x1="1465.19" y1="1035.1" x2="1465.19" y2="1027.9" stroke="#000" stroke-width="2"/>
<line x1="1468.43" y1="1035.1" x2="1468.43" y2="1027.9" stroke="#000" stroke-width="2"/>
<line x1="1471.17" y1="1035.1" x2="1471.17" y2="1027.9" stroke="#000" stroke-width="2"/>
<line x1="1473.54" y1="1035.1" x2="1473.54" y2="1027.9" stroke="#000" stroke-width="2"/>
<line x1="1475.64" y1="1035.1" x2="1475.64" y2="1027.9" stroke="#000" stroke-width="2"/>
<line x1="1489.84" y1="1035.1" x2="1489.84" y2="1027.9" stroke="#000" stroke-width="2"/>
<line x1="1497.05" y1="1035.1" x2="1497.05" y2="1027.9" stroke="#000" stroke-width="2"/>
<line x1="1502.16" y1="1035.1" x2="1502.16" y2="1027.9" stroke="#000" stroke-width="2"/>
<line x1="1506.13" y1="1035.1" x2="1506.13" y2="1027.9" stroke="#000" stroke-width="2"/>
<line x1="1509.37" y1="1035.1" x2="1509.37" y2="1027.9" stroke="#000" stroke-width="2"/>
<line x1="1512.11" y1="1035.1" x2="1512.11" y2="1027.9" stroke="#000" stroke-width="2"/>
<line x1="1514.49" y1="1035.1" x2="1514.49" y2="1027.9" stroke="#000" stroke-width="2"/>
<line x1="1516.58" y1="1035.1" x2="1516.58" y2="1027.9" stroke="#000" stroke-width="2"/>
<line x1="1530.78" y1="1035.1" x2="1530.78" y2="1027.9" stroke="#000" stroke-width="2"/>
<line x1="1537.99" y1="1035.1" x2="1537.99" y2="1027.9" stroke="#000" stroke-width="2"/>
<line x1="1543.11" y1="1035.1" x2="1543.11" y2="1027.9" stroke="#000" stroke-width="2"/>
<line x1="1547.07" y1="1035.1" x2="1547.07" y2="1027.9" stroke="#000" stroke-width="2"/>
<line x1="1550.32" y1="1035.1" x2="1550.32" y2="1027.9" stroke="#000" stroke-width="2"/>
<line x1="1553.06" y1="1035.1" x2="1553.06" y2="1027.9" stroke="#000" stroke-width="2"/>
<line x1="1555.43" y1="1035.1" x2="1555.43" y2="1027.9" stroke="#000" stroke-width="2"/>
<line x1="1557.53" y1="1035.1" x2="1557.53" y2="1027.9" stroke="#000" stroke-width="2"/>
<line x1="1190.9" y1="1035.1" x2="1204.9" y2="1035.1" stroke="#000" stroke-width="2"/>
<text x="1175.9" y="1046.3" font-size="37" text-anchor="end">0</text>
<line x1="1190.9" y1="947.26" x2="1204.9" y2="947.26" stroke="#000" stroke-width="2"/>
<text x="1175.9" y="958.46" font-size="37" text-anchor="end">20</text>
<line x1="1190.9" y1="859.42" x2="1204.9" y2="859.42" stroke="#000" stroke-width="2"/>
<text x="1175.9" y="870.62" font-size="37" text-anchor="end">40</text>
<line x1="1190.9" y1="771.58" x2="1204.9" y2="771.58" stroke="#000" stroke-width="2"/>
<text x="1175.9" y="782.78" font-size="37" text-anchor="end">60</text>
<line x1="1190.9" y1="683.74" x2="1204.9" y2="683.74" stroke="#000" stroke-width="2"/>
<text x="1175.9" y="694.94" font-size="37" text-anchor="end">80</text>
<line x1="1190.9" y1="595.9" x2="1204.9" y2="595.9" stroke="#000" stroke-width="2"/>
<text x="1175.9" y="607.1" font-size="37" text-anchor="end">100</text>
<line x1="1190.9" y1="991.18" x2="1198.4" y2="991.18" stroke="#000" stroke-width="2"/>
<line x1="1190.9" y1="903.34" x2="1198.4" y2="903.34" stroke="#000" stroke-width="2"/>
<line x1="1190.9" y1="815.5" x2="1198.4" y2="815.5" stroke="#000" stroke-width="2"/>
<line x1="1190.9" y1="727.66" x2="1198.4" y2="727.66" stroke="#000" stroke-width="2"/>
<line x1="1190.9" y1="639.82" x2="1198.4" y2="639.82" stroke="#000" stroke-width="2"/>
<clipPath id="cg"><rect x="1190.9" y="595.9" width="368.5" height="439.2"/></clipPath>
<g clip-path="url(#cg)">
<g fill="#000">
<circle cx="1235.34" cy="1013.14" r="1.3"/>
<circle cx="1236.59" cy="998.5" r="1.3"/>
<circle cx="1237.59" cy="983.86" r="1.3"/>
<circle cx="1238.35" cy="969.22" r="1.3"/>
<circle cx="1239.85" cy="954.58" r="1.3"/>
<circle cx="1241.1" cy="939.94" r="1.3"/>
<circle cx="1241.23" cy="925.3" r="1.3"/>
<circle cx="1241.23" cy="910.66" r="1.3"/>
<circle cx="1241.35" cy="896.02" r="1.3"/>
<circle cx="1241.6" cy="881.38" r="1.3"/>
<circle cx="1241.73" cy="866.74" r="1.3"/>
<circle cx="1242.23" cy="852.1" r="1.3"/>
<circle cx="1243.11" cy="837.46" r="1.3"/>
<circle cx="1243.99" cy="822.82" r="1.3"/>
<circle cx="1244.61" cy="808.18" r="1.3"/>
<circle cx="1244.74" cy="793.54" r="1.3"/>
<circle cx="1244.86" cy="778.9" r="1.3"/>
<circle cx="1244.99" cy="764.26" r="1.3"/>
<circle cx="1244.99" cy="749.62" r="1.3"/>
<circle cx="1245.11" cy="734.98" r="1.3"/>
<circle cx="1245.24" cy="720.34" r="1.3"/>
<circle cx="1245.49" cy="705.7" r="1.3"/>
<circle cx="1245.99" cy="691.06" r="1.3"/>
<circle cx="1246.49" cy="676.42" r="1.3"/>
<circle cx="1246.99" cy="661.78" r="1.3"/>
<circle cx="1247.49" cy="647.14" r="1.3"/>
<circle cx="1248" cy="632.5" r="1.3"/>
<circle cx="1248.75" cy="617.86" r="1.3"/>
<circle cx="1249.75" cy="603.22" r="1.3"/>
<rect x="1230.11" y="1015.86" width="9.2" height="9.2"/>
<rect x="1231.37" y="1001.22" width="9.2" height="9.2"/>
<rect x="1232.62" y="986.58" width="9.2" height="9.2"/>
<rect x="1233.37" y="971.94" width="9.2" height="9.2"/>
<rect x="1234.12" y="957.3" width="9.2" height="9.2"/>
<rect x="1236.38" y="942.66" width="9.2" height="9.2"/>
<rect x="1236.63" y="928.02" width="9.2" height="9.2"/>
<rect x="1236.63" y="913.38" width="9.2" height="9.2"/>
<rect x="1236.63" y="898.74" width="9.2" height="9.2"/>
<rect x="1236.88" y="884.1" width="9.2" height="9.2"/>
<rect x="1237.13" y="869.46" width="9.2" height="9.2"/>
<rect x="1237.13" y="854.82" width="9.2" height="9.2"/>
<rect x="1238.13" y="840.18" width="9.2" height="9.2"/>
<rect x="1238.88" y="825.54" width="9.2" height="9.2"/>
<rect x="1239.89" y="810.9" width="9.2" height="9.2"/>
<rect x="1240.14" y="796.26" width="9.2" height="9.2"/>
<rect x="1240.14" y="781.62" width="9.2" height="9.2"/>
<rect x="1240.39" y="766.98" width="9.2" height="9.2"/>
<rect x="1240.39" y="752.34" width="9.2" height="9.2"/>
<rect x="1240.39" y="737.7" width="9.2" height="9.2"/>
<rect x="1240.64" y="723.06" width="9.2" height="9.2"/>
<rect x="1240.64" y="708.42" width="9.2" height="9.2"/>
<rect x="1241.14" y="693.78" width="9.2" height="9.2"/>
<rect x="1241.64" y="679.14" width="9.2" height="9.2"/>
<rect x="1242.14" y="664.5" width="9.2" height="9.2"/>
<rect x="1242.64" y="649.86" width="9.2" height="9.2"/>
<rect x="1243.14" y="635.22" width="9.2" height="9.2"/>
<rect x="1243.65" y="620.58" width="9.2" height="9.2"/>
<rect x="1244.65" y="605.94" width="9.2" height="9.2"/>
<rect x="1245.65" y="591.3" width="9.2" height="9.2"/>
</g>
<line x1="1251.3" y1="596.4" x2="1251.3" y2="1035.1" stroke="#ff0000" stroke-width="4.5" stroke-dasharray="5.7 4.7"/>
<polyline points="1342.23,1020.46 1342.23,1005.82 1346.74,991.18 1355.51,976.54 1356.01,961.9 1358.52,947.26 1359.27,932.62 1359.27,917.98 1361.03,903.34 1367.54,888.7 1371.8,874.06 1371.8,859.42 1371.8,844.78 1374.06,830.14 1381.08,815.5 1382.83,800.86 1385.59,786.22 1388.85,771.58 1391.85,756.94 1395.61,742.3 1398.87,727.66 1400.12,713.02 1437.97,698.38 1438.22,683.74 1451.5,669.1 1457.27,654.46 1488.35,639.82 1493.36,625.18 1496.87,610.54 1523.93,595.9" fill="none" stroke="#0000ff" stroke-width="3.7" stroke-linejoin="round"/>
<g fill="#0000ff">
<circle cx="1342.23" cy="1020.46" r="5.45"/>
<circle cx="1342.23" cy="1005.82" r="5.45"/>
<circle cx="1346.74" cy="991.18" r="5.45"/>
<circle cx="1355.51" cy="976.54" r="5.45"/>
<circle cx="1356.01" cy="961.9" r="5.45"/>
<circle cx="1358.52" cy="947.26" r="5.45"/>
<circle cx="1359.27" cy="932.62" r="5.45"/>
<circle cx="1359.27" cy="917.98" r="5.45"/>
<circle cx="1361.03" cy="903.34" r="5.45"/>
<circle cx="1367.54" cy="888.7" r="5.45"/>
<circle cx="1371.8" cy="874.06" r="5.45"/>
<circle cx="1371.8" cy="859.42" r="5.45"/>
<circle cx="1371.8" cy="844.78" r="5.45"/>
<circle cx="1374.06" cy="830.14" r="5.45"/>
<circle cx="1381.08" cy="815.5" r="5.45"/>
<circle cx="1382.83" cy="800.86" r="5.45"/>
<circle cx="1385.59" cy="786.22" r="5.45"/>
<circle cx="1388.85" cy="771.58" r="5.45"/>
<circle cx="1391.85" cy="756.94" r="5.45"/>
<circle cx="1395.61" cy="742.3" r="5.45"/>
<circle cx="1398.87" cy="727.66" r="5.45"/>
<circle cx="1400.12" cy="713.02" r="5.45"/>
<circle cx="1437.97" cy="698.38" r="5.45"/>
<circle cx="1438.22" cy="683.74" r="5.45"/>
<circle cx="1451.5" cy="669.1" r="5.45"/>
<circle cx="1457.27" cy="654.46" r="5.45"/>
<circle cx="1488.35" cy="639.82" r="5.45"/>
<circle cx="1493.36" cy="625.18" r="5.45"/>
<circle cx="1496.87" cy="610.54" r="5.45"/>
<circle cx="1523.93" cy="595.9" r="5.45"/>
</g>
<line x1="1342.1" y1="596.4" x2="1342.1" y2="1035.1" stroke="#ff0000" stroke-width="4.5" stroke-dasharray="5.7 4.7"/>
</g>
<line x1="1270" y1="762.6" x2="1318" y2="762.6" stroke="#ff0000" stroke-width="5"/>
<polygon points="1244,762.6 1274,755.1 1274,770.1" fill="#ff0000"/>
<polygon points="1344,762.6 1314,755.1 1314,770.1" fill="#ff0000"/>
<text x="1254.8" y="810" font-size="37" fill="#ff0000">~200</text>
<rect x="1190.9" y="595.9" width="368.5" height="439.2" fill="none" stroke="#000" stroke-width="2.3"/>
<text x="1007.5" y="623" font-size="41" font-weight="bold">g</text>
<text transform="translate(1116 836.7) rotate(-90)" font-size="37" text-anchor="middle">Cumulative Probability (%)</text>
<text x="1192.2" y="1085" font-size="37" text-anchor="middle">10<tspan dy="-15" dx="0.5" font-size="25">2</tspan></text>
<text x="1274.09" y="1085" font-size="37" text-anchor="middle">10<tspan dy="-15" dx="0.5" font-size="25">4</tspan></text>
<text x="1355.98" y="1085" font-size="37" text-anchor="middle">10<tspan dy="-15" dx="0.5" font-size="25">6</tspan></text>
<text x="1437.87" y="1085" font-size="37" text-anchor="middle">10<tspan dy="-15" dx="0.5" font-size="25">8</tspan></text>
<text x="1519.76" y="1085" font-size="37" text-anchor="middle">10<tspan dy="-15" dx="0.5" font-size="25">10</tspan></text>
<text x='1253' y='1130' font-size='37'>Resistance (<tspan font-family='"Liberation Serif", serif'>Ω</tspan>)</text>
</g>
<g id="panel-h" clip-path="url(#semclip)">
<g filter="url(#semf)">
<rect x="1600" y="556" width="410" height="570" fill="url(#bgg)"/>
<g filter="url(#bl12)" opacity="0.2">
<path d="M1909.5 676 Q1909.5 668.5 1917 668.5 L1932 668.5 Q1939.3 668.5 1939.3 676 L1939.3 803 L1956 803 Q1960 803 1960 807 L1962 1125 L1822.5 1125 L1825 900 Q1825 896 1829 896 L1888.5 896 L1890.3 807 Q1890.3 803 1894 803 L1909.5 803 Z" fill="none" stroke="#2c2c2c" stroke-width="30"/>
<rect x="1966" y="650" width="40" height="480" fill="#2c2c2c" opacity="0.7"/>
<path d="M1754 800 L1850 800 L1850 830 L1780 870 L1754 870 Z" fill="#2c2c2c" opacity="0.5"/>
</g>
<circle cx="1826" cy="666" r="6" fill="#3c3c3c" opacity="0.6" filter="url(#bl5)"/>
<path d="M1600 735 L1843 735 Q1848.5 735 1848.5 740 L1848.5 794.5 Q1848.5 799.5 1843 799.5 L1759 799.5 Q1754 799.5 1754 805 L1754 857.5 Q1754 862.5 1749 862.5 L1600 862.5 Z" fill="#8a8a8a"/>
<path d="M1600 735 L1843 735 Q1848.5 735 1848.5 740 L1848.5 794.5 Q1848.5 799.5 1843 799.5 L1759 799.5 Q1754 799.5 1754 805 L1754 857.5 Q1754 862.5 1749 862.5 L1600 862.5 Z" fill="none" stroke="#ffffff" stroke-width="5" opacity="0.55" filter="url(#bl2)"/>
<g filter="url(#rough)">
<path d="M1600 735 L1843 735 Q1848.5 735 1848.5 740 L1848.5 794.5 Q1848.5 799.5 1843 799.5 L1759 799.5 Q1754 799.5 1754 805 L1754 857.5 Q1754 862.5 1749 862.5 L1600 862.5 Z" fill="none" stroke="#ffffff" stroke-width="2.6" stroke-linejoin="round"/>
<path d="M1611 734 L1614 728 L1625 727.5 L1627 734 Z M1650 734 L1656 730.5 L1660 734 Z M1672 734 L1686 727 L1687 734 Z" fill="#e8e8e8"/>
</g>
<path d="M1909.5 676 Q1909.5 668.5 1917 668.5 L1932 668.5 Q1939.3 668.5 1939.3 676 L1939.3 803 L1956 803 Q1960 803 1960 807 L1962 1125 L1822.5 1125 L1825 900 Q1825 896 1829 896 L1888.5 896 L1890.3 807 Q1890.3 803 1894 803 L1909.5 803 Z" fill="#696969"/>
<path d="M1909.5 676 Q1909.5 668.5 1917 668.5 L1932 668.5 Q1939.3 668.5 1939.3 676 L1939.3 803 L1956 803 Q1960 803 1960 807 L1962 1125 L1822.5 1125 L1825 900 Q1825 896 1829 896 L1888.5 896 L1890.3 807 Q1890.3 803 1894 803 L1909.5 803 Z" fill="none" stroke="#9a9a9a" stroke-width="1.6" opacity="0.75"/>
<path d="M1912 676 Q1912 671 1917 671 L1932 671 Q1937 671 1937 676" fill="none" stroke="#b0b0b0" stroke-width="1.6" opacity="0.8"/>
<circle cx="1920" cy="679" r="4" fill="#7c7c7c" opacity="0.7"/>
<g filter="url(#rough)" fill="none" stroke="#f0f0f0" stroke-linecap="round">
<path d="M1890.8 808 L1889.6 876" stroke-width="3.4"/>
<path d="M1829 896.8 L1850 896.4 M1856 896.4 L1886 896.4" stroke-width="2.4"/>
<path d="M1894 803.6 L1909 803.6" stroke-width="2"/>
<path d="M1827.5 902 L1826.5 942" stroke-width="3.4"/>
<path d="M1826.3 976 L1828.6 1032" stroke-width="4"/>
<path d="M1825.2 1048 L1824.6 1064" stroke-width="3.4"/>
<path d="M1824.2 1084 L1823.4 1112" stroke-width="3"/>
<path d="M1826.6 946 L1826.4 972 M1824.8 1068 L1824.4 1080" stroke-width="1.6" opacity="0.7"/>
</g>
<path d="M1960.5 806 L1962 1116" fill="none" stroke="#c8c8c8" stroke-width="1.5" stroke-dasharray="8 5 16 6 4 7" opacity="0.8"/>
<path d="M1849.3 752.4 L1857.7 747.6 L1873.5 746.8 L1888 743.9 L1902.5 741.5 L1909.3 743.4 L1913.4 753.6 L1912.2 759.7 L1900.1 766.9 L1885.6 771 L1871 774.9 L1856.5 777.8 L1851.7 777.1 L1849.3 768.1 Z" fill="url(#nwg)"/>
<path d="M1911 761.3 L1919.5 761.3 L1919.5 777.8 L1913.4 786.3 L1909.8 777.8 Z" fill="#909090" opacity="0.85"/>
</g>
<rect x="1650" y="1077.6" width="119.5" height="5.8" fill="#fff"/>
<text transform="translate(1652 1057.6) scale(1.1 1)" font-size="31.3" fill="#fff">200 nm</text>
<text x="1624" y="622.5" font-size="41" font-weight="bold" fill="#fff">h</text>
</g>
</svg>
</body></html>
